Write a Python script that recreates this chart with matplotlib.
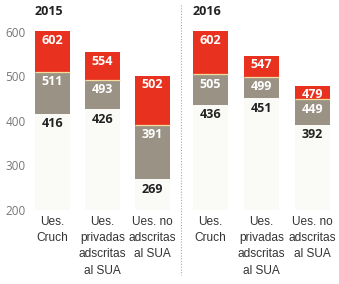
import matplotlib
matplotlib.use("Agg")
import matplotlib.pyplot as plt
from matplotlib.lines import Line2D

years = ["2015", "2016"]
categories = ["Ues.\nCruch", "Ues.\nprivadas\nadscritas\nal SUA", "Ues. no\nadscritas\nal SUA"]
min_2015 = [416, 426, 269]
mid_2015 = [511, 493, 391]
max_2015 = [602, 554, 502]
min_2016 = [436, 451, 392]
mid_2016 = [505, 499, 449]
max_2016 = [602, 547, 479]
yticks = [200, 300, 400, 500, 600]

RED = "#e8321f"
GRAY = "#9a9385"
FAINT = "#fafaf6"
W, H = 339, 284
NUM_FONT = ["Open Sans", "DejaVu Sans"]
CAT_FONT = ["Liberation Sans", "DejaVu Sans"]

fig = plt.figure(figsize=(W / 100, H / 100), dpi=100)
fig.patch.set_facecolor("white")

ybot, ytop = 195, 615
ax_bottom_px, ax_top_px = 212.2, 25.3
axes_specs = [
    (30, 150, (-0.45, 2.55)),
    (185, 153, (-0.5, 2.5)),
]
data = [(min_2015, mid_2015, max_2015), (min_2016, mid_2016, max_2016)]

for k, ((left, width, xl), (mn, md, mx)) in enumerate(zip(axes_specs, data)):
    ax = fig.add_axes([left / W, (H - ax_bottom_px) / H, width / W,
                       (ax_bottom_px - ax_top_px) / H])
    ax.set_xlim(*xl)
    ax.set_ylim(ybot, ytop)
    for s in ax.spines.values():
        s.set_visible(False)
    x = list(range(len(categories)))
    bw = 0.7
    ax.bar(x, [m - 200 for m in mn], bottom=200, width=bw, color=FAINT, zorder=1)
    ax.bar(x, [b - a for a, b in zip(mn, md)], bottom=mn, width=bw, color=GRAY, zorder=2)
    ax.bar(x, [c - b for b, c in zip(md, mx)], bottom=md, width=bw, color=RED, zorder=2)
    ax.hlines(md, [i - bw / 2 for i in x], [i + bw / 2 for i in x],
              color="#f3dc9c", lw=0.9, zorder=3)
    for i in x:
        ax.annotate(str(mx[i]), (i, mx[i]), xytext=(0, -9), textcoords="offset pixels",
                    ha="center", va="center", color="white", fontsize=9,
                    fontweight="bold", family=NUM_FONT, zorder=4)
        ax.annotate(str(md[i]), (i, md[i]), xytext=(0, -10), textcoords="offset pixels",
                    ha="center", va="center", color="white", fontsize=9,
                    fontweight="bold", family=NUM_FONT, zorder=4)
        ax.annotate(str(mn[i]), (i, mn[i]), xytext=(0, -10), textcoords="offset pixels",
                    ha="center", va="center", color="#222222", fontsize=9,
                    fontweight="bold", family=NUM_FONT, zorder=4)
    ax.set_xticks(x)
    ax.set_xticklabels(categories, fontsize=8.6, color="#333333", family=CAT_FONT,
                       linespacing=1.45)
    ax.tick_params(axis="x", length=0, pad=3)
    if k == 0:
        ax.set_yticks(yticks)
        ax.set_yticklabels([str(t) for t in yticks], fontsize=8.5, color="#777777",
                           family=NUM_FONT)
        ax.tick_params(axis="y", length=0, pad=3)
    else:
        ax.set_yticks([])
    ax.annotate(years[k], (-bw / 2, 1.0), xycoords=ax.get_xaxis_transform(),
                xytext=(0, 7), textcoords="offset pixels",
                ha="left", va="bottom", fontsize=9, fontweight="bold", color="#222222",
                family=NUM_FONT)

fig.add_artist(Line2D([181 / W, 181 / W], [1 - 5 / H, 1 - 275 / H],
                      transform=fig.transFigure, color="#aaaaaa", lw=0.8,
                      linestyle=(0, (1, 1.5))))

fig.savefig("out.png", dpi=100, facecolor="white")
